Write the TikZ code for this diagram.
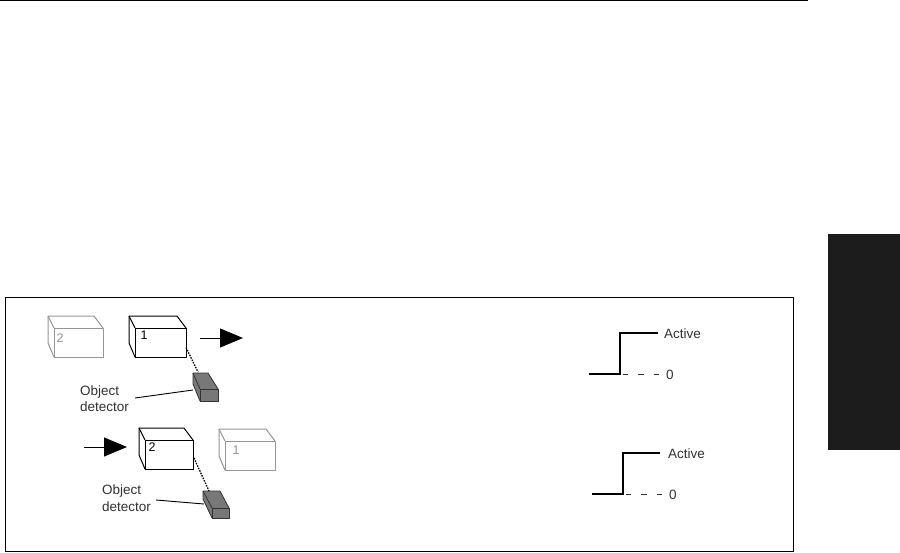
\documentclass[tikz,border=0pt]{standalone}
\usepackage{fontspec}
\setmainfont{Liberation Sans}
\definecolor{MyTab}{RGB}{28, 28, 28}
\definecolor{MyText}{RGB}{50, 50, 50}
\definecolor{MyGhost}{RGB}{150, 150, 150}
\definecolor{MyDetector}{RGB}{120, 120, 120}
\usetikzlibrary{arrows.meta}

\begin{document}
\begin{tikzpicture}[
                x=1pt,y=-1pt,
                box/.style={draw=black,line width=1pt,fill=white,line join=round},
                ghost/.style={draw=MyGhost,line width=1pt,fill=white,line join=round},
                face/.style={rectangle,anchor=north west,inner sep=0pt,outer sep=0pt},
                num/.style={inner sep=0pt,font=\fontsize{12.5}{12.5}\selectfont},
                lbl/.style={inner sep=0pt,text=MyText,font=\fontsize{13.5}{16.5}\selectfont},
                det/.style={draw=MyText,line width=0.8pt,fill=MyDetector,line join=round},
                move/.style={line width=1pt,-{Triangle[length=23pt,width=19pt]}},
                sig/.style={line width=1.8pt,line join=miter},
                lvl/.style={MyText,line width=0.8pt,dash pattern=on 5.5pt off 10pt,dash phase=13pt},
                lead/.style={line width=0.9pt},
                sense/.style={line width=1.3pt,dash pattern=on 1.5pt off 1.2pt}
            ]
                \useasboundingbox (0,0) rectangle (900,552);
                % Page rule, frame and side tab
                \coordinate (ruleL) at (0,0.5);
                \coordinate (ruleR) at (808,0.5);
                \draw[line width=1pt] (ruleL)--(ruleR);
                \node[face,fill=MyTab,minimum width=72pt,minimum height=216pt] (tab) at (828,234) {};
                \node[face,draw=black,line width=1pt,minimum width=788pt,minimum height=254pt] (frame) at (5,297) {};
                % Boxes: name/left/top/width/height/style
                \foreach \n/\x/\y/\w/\h/\s in {
                    ba/48/316/55/41/ghost,
                    bb/129/316/57/41/box,
                    bc/139/428/54/41/box,
                    bd/219/429/56/41/ghost} {
                    \draw[\s] (\x,\y)--++(\w-9,0)--++(9,12)--++(0,\h-12)--++(-\w+6,0)--++(-6,-14)--cycle;
                    \node[face,\s,minimum width=\w pt-6pt,minimum height=\h pt-12pt] (\n) at (\x+6,\y+12) {};
                    \coordinate (\n back) at (\x,\y);
                    \draw[\s] (\n back)--(\n.north west);
                }
                \node[num,text=MyGhost] (na) at (60,338) {2};
                \node[num] (nb) at (144,335) {1};
                \node[num] (nc) at (152,447) {2};
                \node[num,text=MyGhost] (nd) at (236,450) {1};
                % Movement arrows
                \coordinate (moveAs) at (200,338);
                \coordinate (moveAe) at (243,338);
                \coordinate (moveBs) at (84,447);
                \coordinate (moveBe) at (127,447);
                \draw[move] (moveAs)--(moveAe);
                \draw[move] (moveBs)--(moveBe);
                % Object detectors
                \draw[det] (193,373)--(208,373)--(218,389)--(218,401)--(200,401)--(193,384)--cycle;
                \node[face,det,minimum width=18pt,minimum height=12pt] (detA) at (200,389) {};
                \draw[det] (193,373)--(200,389);
                \draw[det] (203,491)--(220,491)--(229,508)--(229,518)--(212,518)--(203,499)--cycle;
                \node[face,det,minimum width=17pt,minimum height=10pt] (detB) at (212,508) {};
                \draw[det] (203,491)--(212,508);
                \coordinate (detAtop) at (198,372);
                \coordinate (detBtop) at (209,491);
                \draw[sense] (bb.east)++(0,5)--(detAtop);
                \draw[sense] (bc.south east)++(1,-11)--(detBtop);
                % Labels and leaders
                \node[lbl,align=left,anchor=west] (objA) at (80,398.5) {Object\\detector};
                \node[lbl,align=left,anchor=west] (objB) at (102,498) {Object\\detector};
                \coordinate (leadAs) at (135,398);
                \coordinate (leadAe) at (193,390);
                \coordinate (leadBs) at (156,500);
                \coordinate (leadBe) at (204,504);
                \draw[lead] (leadAs)--(leadAe);
                \draw[lead] (leadBs)--(leadBe);
                % Signal traces
                \foreach \n/\x/\y/\e/\d/\a/\z in {
                    A/589/374/620/658/664/666,
                    B/592/494/623/660/668/669} {
                    \coordinate (low\n) at (\x,\y);
                    \coordinate (rise\n) at (\e,\y);
                    \coordinate (top\n) at (\e,\y-41);
                    \coordinate (high\n) at (\d,\y-41);
                    \coordinate (zero\n) at (\d+3,\y);
                    \draw[lvl] (rise\n)--(zero\n);
                    \draw[sig] (low\n)--(rise\n)--(top\n)--(high\n);
                    \node[lbl,anchor=west] (act\n) at (\a,\y-40.5) {Active};
                    \node[lbl,anchor=west] (nil\n) at (\z,\y+1) {0};
                }
            \end{tikzpicture}
\end{document}
